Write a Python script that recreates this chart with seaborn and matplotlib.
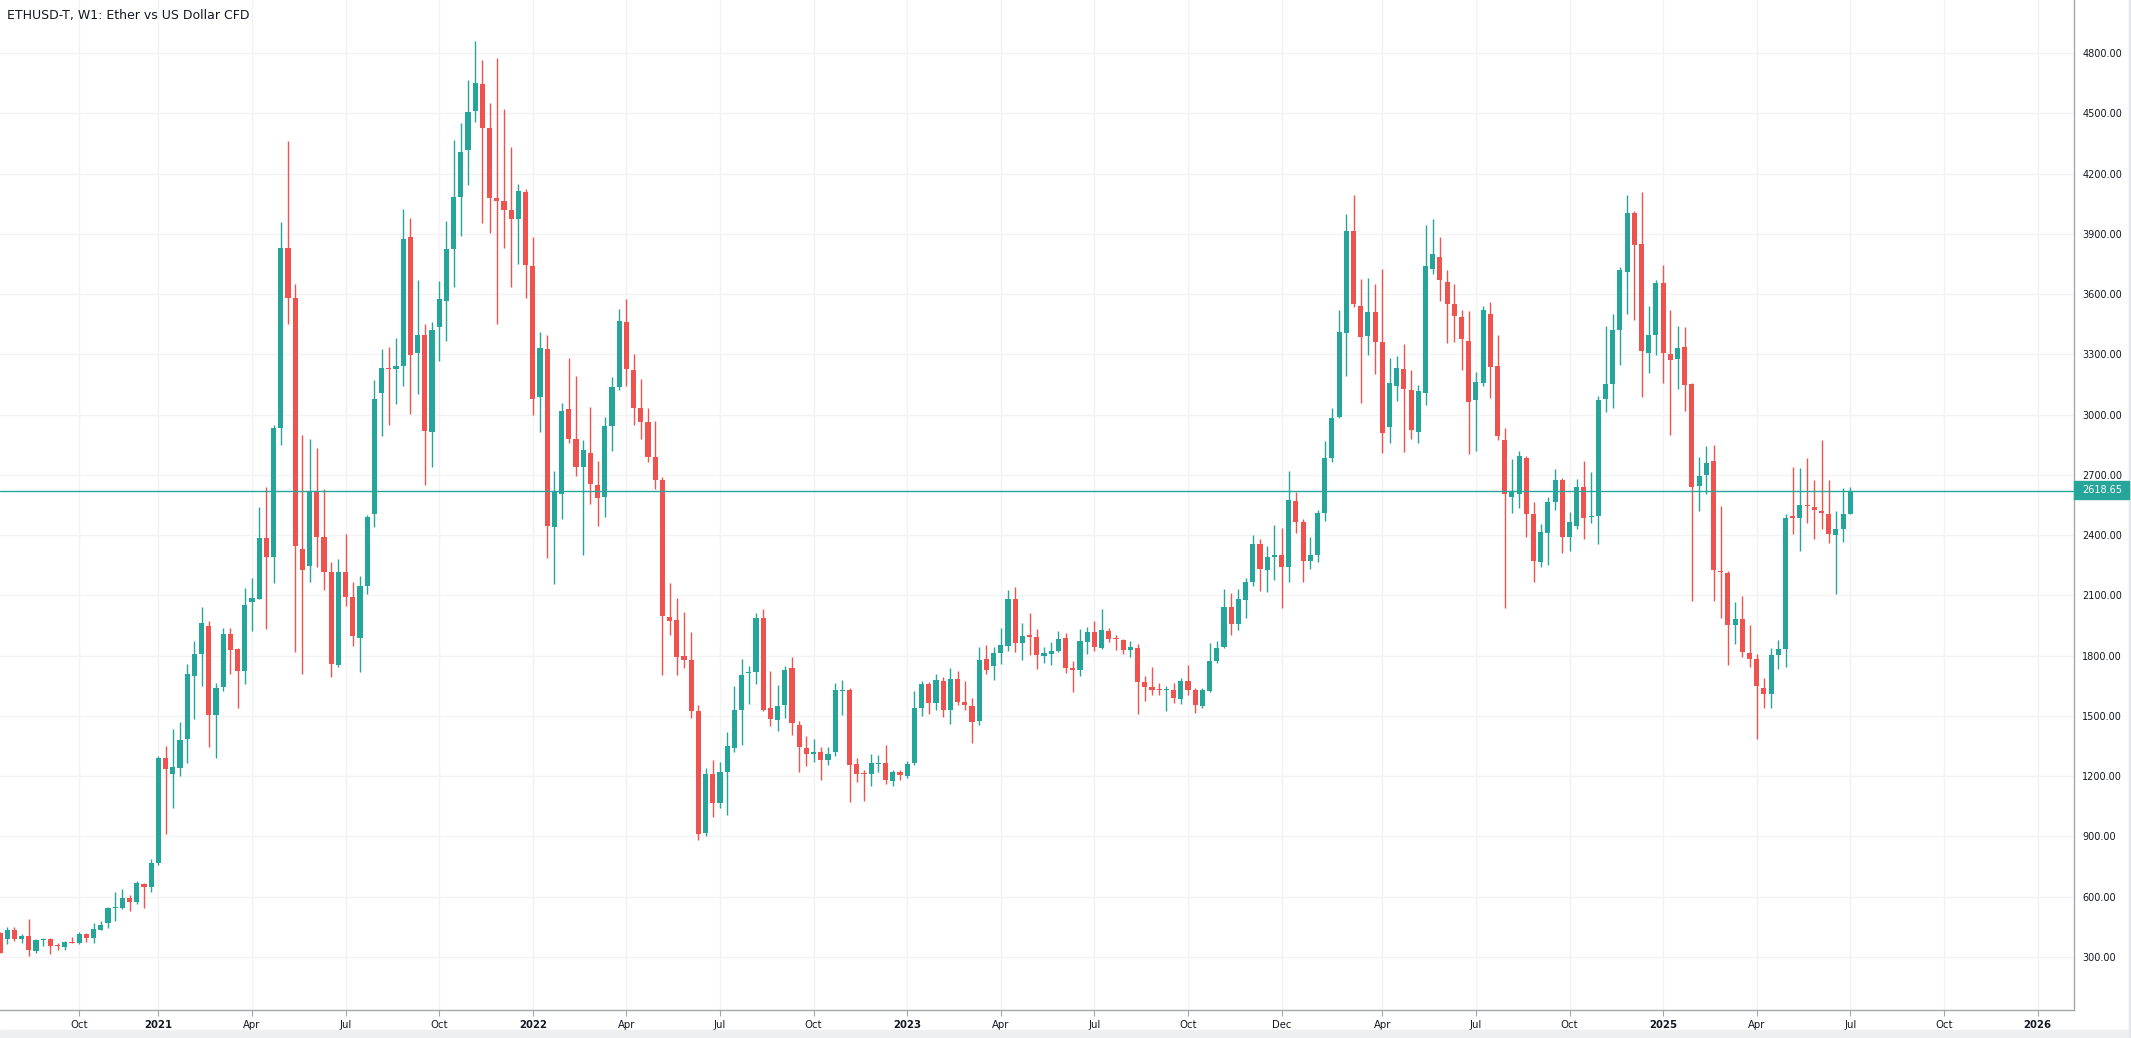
import numpy as np
import seaborn as sns
import matplotlib
matplotlib.use('Agg')
import matplotlib.pyplot as plt
from matplotlib.patches import Rectangle


# Weekly candles, ETHUSD-T ----------------------------------------------------
opens = [
    418, 391, 434, 391, 405, 332, 386, 390, 356, 352,
    373, 372, 415, 393, 435, 468, 544, 544, 594, 576,
    664, 650, 766, 1293, 1213, 1243, 1387, 1701, 1808, 1948,
    1506, 1646, 1908, 1833, 1726, 2069, 2084, 2386, 2293, 2933,
    3830, 3580, 2333, 2247, 2613, 2389, 2214, 1753, 2218, 2091,
    1888, 2145, 2505, 3109, 3234, 3226, 3241, 3886, 3305, 3394,
    2913, 3435, 3564, 3823, 4084, 4315, 4509, 4647, 4427, 4080,
    4065, 4019, 3972, 4110, 3739, 3088, 3327, 2441, 2605, 3027,
    2878, 2738, 2809, 2650, 2592, 2943, 3135, 3463, 3220, 3031,
    2962, 2787, 2673, 1991, 1976, 1798, 1778, 1522, 916, 1209,
    1067, 1222, 1340, 1531, 1713, 1720, 1989, 1540, 1480, 1553,
    1740, 1456, 1338, 1311, 1322, 1282, 1322, 1624, 1631, 1260,
    1215, 1211, 1262, 1267, 1178, 1220, 1200, 1265, 1540, 1661,
    1562, 1675, 1531, 1685, 1571, 1551, 1476, 1785, 1750, 1815,
    1850, 2084, 1865, 1905, 1895, 1800, 1810, 1825, 1890, 1740,
    1727, 1870, 1920, 1840, 1925, 1883, 1880, 1830, 1840, 1670,
    1645, 1629, 1628, 1630, 1586, 1675, 1630, 1551, 1626, 1775,
    1845, 2044, 1960, 2079, 2166, 2356, 2226, 2292, 2301, 2243,
    2569, 2465, 2273, 2301, 2511, 2783, 2988, 3405, 3913, 3540,
    3392, 3510, 3361, 2940, 3143, 3226, 3122, 2915, 3109, 3726,
    3784, 3659, 3550, 3485, 3366, 3074, 3158, 3500, 3241, 2873,
    2591, 2606, 2783, 2505, 2268, 2412, 2564, 2672, 2390, 2443,
    2641, 2488, 2494, 3077, 3154, 3422, 3708, 4002, 3847, 3306,
    3394, 3653, 3304, 3276, 3339, 3154, 2643, 2698, 2767, 2223,
    2212, 1951, 1983, 1814, 1781, 1640, 1610, 1804, 1831, 2494,
    2485, 2546, 2542, 2519, 2504, 2399, 2429, 2507,
]
highs = [
    425, 450, 450, 415, 489, 390, 395, 392, 370, 378,
    400, 425, 418, 468, 478, 549, 624, 639, 609, 679,
    670, 788, 1298, 1350, 1435, 1470, 1759, 1873, 2042, 1973,
    1664, 1938, 1938, 1838, 2137, 2187, 2542, 2640, 2950, 3960,
    4360, 3650, 2900, 2881, 2835, 2630, 2264, 2279, 2408, 2169,
    2199, 2501, 3170, 3329, 3338, 3379, 4024, 3980, 3672, 3452,
    3463, 3666, 3965, 4369, 4453, 4666, 4860, 4765, 4552, 4776,
    4522, 4334, 4149, 4125, 3886, 3409, 3394, 2717, 3060, 3280,
    3193, 2872, 3040, 2768, 2986, 3187, 3528, 3578, 3302, 3176,
    3031, 2967, 2690, 2160, 2085, 2016, 1916, 1553, 1242, 1280,
    1271, 1418, 1649, 1782, 1749, 2013, 2031, 1722, 1653, 1749,
    1791, 1473, 1398, 1387, 1347, 1345, 1664, 1678, 1638, 1291,
    1231, 1309, 1304, 1353, 1233, 1231, 1278, 1622, 1676, 1668,
    1710, 1695, 1740, 1725, 1675, 1587, 1845, 1855, 1845, 1940,
    2129, 2144, 1965, 2014, 1935, 1845, 1870, 1925, 1915, 1775,
    1935, 1945, 1975, 2030, 1940, 1905, 1885, 1875, 1860, 1700,
    1745, 1665, 1650, 1665, 1690, 1755, 1640, 1640, 1865, 1875,
    2134, 2114, 2134, 2189, 2403, 2381, 2346, 2450, 2435, 2719,
    2614, 2482, 2392, 2525, 2868, 3032, 3520, 3999, 4092, 3674,
    3679, 3649, 3724, 3281, 3291, 3351, 3221, 3147, 3943, 3973,
    3883, 3719, 3649, 3520, 3515, 3211, 3540, 3560, 3396, 2933,
    2778, 2819, 2795, 2564, 2455, 2589, 2729, 2684, 2517, 2681,
    2767, 2715, 3095, 3443, 3499, 3733, 4091, 4015, 4107, 3539,
    3668, 3743, 3523, 3443, 3434, 3159, 2791, 2845, 2851, 2547,
    2220, 2069, 2099, 1955, 1810, 1690, 1838, 1877, 2507, 2738,
    2732, 2786, 2675, 2875, 2675, 2519, 2633, 2641,
]
lows = [
    318, 366, 381, 372, 307, 322, 357, 317, 337, 337,
    368, 365, 376, 372, 433, 446, 481, 537, 531, 566,
    544, 625, 760, 911, 1040, 1203, 1268, 1485, 1651, 1347,
    1292, 1626, 1711, 1541, 1661, 1925, 2084, 1935, 2163, 2850,
    3450, 1820, 1709, 2165, 2242, 2128, 1694, 1742, 2048, 1850,
    1720, 2106, 2441, 2894, 2947, 3053, 3142, 3001, 3105, 2650,
    2738, 3267, 3364, 3633, 3888, 4142, 4455, 3952, 3903, 3450,
    3827, 3633, 3748, 3579, 2997, 2915, 2285, 2156, 2479, 2859,
    2695, 2300, 2555, 2445, 2492, 2818, 3124, 3141, 2949, 2878,
    2764, 2631, 1704, 1904, 1704, 1738, 1491, 882, 902, 998,
    1042, 1007, 1322, 1356, 1560, 1660, 1525, 1451, 1427, 1491,
    1407, 1222, 1253, 1271, 1182, 1256, 1302, 1504, 1073, 1171,
    1078, 1153, 1222, 1160, 1151, 1182, 1190, 1258, 1501, 1512,
    1531, 1493, 1461, 1556, 1531, 1366, 1456, 1710, 1680, 1760,
    1822, 1820, 1780, 1805, 1735, 1765, 1755, 1820, 1715, 1620,
    1697, 1810, 1825, 1835, 1870, 1830, 1810, 1795, 1511, 1576,
    1602, 1605, 1526, 1566, 1561, 1605, 1516, 1541, 1620, 1765,
    1840, 1905, 1930, 1985, 2149, 2123, 2118, 2176, 2039, 2166,
    2412, 2168, 2233, 2268, 2472, 2764, 2983, 3192, 3537, 3059,
    3298, 3203, 2808, 2860, 3069, 2815, 2880, 2860, 3049, 3701,
    3566, 3357, 3360, 3223, 2805, 2820, 3143, 3082, 2875, 2039,
    2511, 2536, 2392, 2168, 2243, 2253, 2523, 2309, 2323, 2433,
    2380, 2460, 2355, 3013, 3032, 3249, 3499, 3470, 3089, 3209,
    3297, 3156, 2896, 3127, 3016, 2071, 2519, 2603, 2071, 1989,
    1751, 1856, 1795, 1745, 1383, 1537, 1537, 1732, 1745, 2405,
    2319, 2462, 2382, 2433, 2363, 2109, 2366, 2504,
]
closes = [
    322, 434, 391, 406, 337, 385, 389, 357, 354, 375,
    371, 415, 393, 440, 460, 544, 546, 596, 576, 667,
    650, 766, 1293, 1234, 1248, 1380, 1709, 1808, 1963, 1506,
    1639, 1908, 1830, 1726, 2052, 2087, 2386, 2293, 2933, 3830,
    3580, 2348, 2227, 2620, 2393, 2216, 1759, 2218, 2093, 1899,
    2149, 2488, 3079, 3230, 3228, 3241, 3875, 3297, 3394, 2917,
    3422, 3577, 3825, 4084, 4308, 4507, 4651, 4429, 4077, 4062,
    4021, 3972, 4114, 3743, 3077, 3331, 2445, 2613, 3019, 2878,
    2738, 2824, 2654, 2585, 2943, 3135, 3467, 3227, 3033, 2964,
    2789, 2676, 1998, 1973, 1793, 1780, 1522, 911, 1209, 1067,
    1220, 1349, 1529, 1702, 1716, 1989, 1531, 1484, 1551, 1731,
    1464, 1347, 1311, 1322, 1282, 1311, 1627, 1631, 1256, 1211,
    1212, 1264, 1267, 1182, 1220, 1204, 1263, 1537, 1661, 1566,
    1680, 1531, 1685, 1571, 1556, 1471, 1780, 1730, 1815, 1855,
    2084, 1865, 1900, 1895, 1802, 1815, 1825, 1885, 1740, 1727,
    1875, 1920, 1845, 1930, 1885, 1881, 1830, 1845, 1670, 1645,
    1630, 1628, 1630, 1590, 1675, 1630, 1556, 1630, 1775, 1840,
    2044, 1960, 2084, 2169, 2356, 2231, 2291, 2300, 2243, 2574,
    2467, 2273, 2301, 2511, 2783, 2983, 3410, 3913, 3550, 3387,
    3510, 3361, 2910, 3157, 3231, 3128, 2924, 3117, 3739, 3799,
    3671, 3551, 3492, 3377, 3064, 3162, 3520, 3238, 2895, 2606,
    2616, 2794, 2506, 2273, 2415, 2564, 2672, 2390, 2467, 2641,
    2485, 2494, 3075, 3154, 3419, 3718, 4006, 3844, 3316, 3394,
    3653, 3306, 3270, 3333, 3146, 2639, 2696, 2761, 2225, 2214,
    1951, 1983, 1817, 1785, 1648, 1610, 1804, 1835, 2487, 2487,
    2551, 2544, 2523, 2510, 2405, 2429, 2504, 2618.65,
]
last_price = 2618.65

# Time axis labels (bar index where each label sits) ---------------------------
tick_bars = [11, 22, 35, 48, 61, 74, 87, 100, 113, 126, 139,
             152, 165, 178, 192, 205, 218, 231, 244, 257, 270, 283]
tick_labels = ['Oct', '2021', 'Apr', 'Jul', 'Oct', '2022', 'Apr', 'Jul',
               'Oct', '2023', 'Apr', 'Jul', 'Oct', 'Dec', 'Apr', 'Jul',
               'Oct', '2025', 'Apr', 'Jul', 'Oct', '2026']
price_ticks = list(range(300, 5100, 300))

# Style -----------------------------------------------------------------------
sns.set_style('white')
plt.rcParams['font.family'] = ['DejaVu Sans']
(UP, DOWN, TXT, AXC) = ('#26a69a', '#ef5350', '#131722', '#a3a6ad')
(W, H) = (2131, 1038)

o = np.array(opens, dtype=float)
c = np.array(closes, dtype=float)
x = np.arange(len(o))
colors = np.where(c >= o, UP, DOWN)
body_lo = np.minimum(o, c)
body_h = np.maximum(np.abs(c - o), 5)

# Plot ------------------------------------------------------------------------
fig = plt.figure(figsize=(W / 100, H / 100), dpi=100)
ax = fig.add_axes([0, 28 / H, 2074 / W, 1 - 28 / H])
ax.set_axisbelow(True)
ax.grid(True, color='#f2f3f5', linewidth=1.0)

ax.vlines(x, lows, highs, colors=colors, linewidth=1.0, zorder=2)
ax.bar(x, body_h, bottom=body_lo, width=0.7, color=colors,
       linewidth=0, zorder=3)
ax.axhline(last_price, color=UP, linewidth=1.0, zorder=4)

# Axes ------------------------------------------------------------------------
ax.set_xlim(0, 288.06)
ax.set_ylim(36, 5064)
ax.yaxis.tick_right()
ax.set_yticks(price_ticks)
ax.set_yticklabels(['%.2f' % p for p in price_ticks])
ax.set_xticks(tick_bars)
ax.set_xticklabels(tick_labels)
for lab in ax.get_xticklabels():
    if lab.get_text().isdigit():
        lab.set_fontweight('bold')
ax.tick_params(axis='y', which='both', right=True, left=False, length=4,
               width=0.8, color=AXC, labelsize=7, labelcolor=TXT, pad=2)
ax.tick_params(axis='x', which='both', bottom=True, length=4, width=0.8,
               color=AXC, labelsize=7.3, labelcolor=TXT, pad=3)
sns.despine(ax=ax, left=True, top=True, right=False, bottom=False)
for side in ('right', 'bottom'):
    ax.spines[side].set_color(AXC)
    ax.spines[side].set_linewidth(1.0)

# Last price label ------------------------------------------------------------
fig.patches.append(Rectangle((2074 / W, 1 - 499 / H), 55 / W, 18 / H,
                             transform=fig.transFigure, color=UP, zorder=5))
fig.text(2102 / W, 1 - 490 / H, '%.2f' % last_price, color='white',
         fontsize=7, ha='center', va='center', zorder=6)

# Frame strips and title ------------------------------------------------------
fig.patches.append(Rectangle((0, 0), 1, 8 / H, transform=fig.transFigure,
                             color='#eeeff1', zorder=0))
fig.patches.append(Rectangle((1 - 2 / W, 0), 2 / W, 1,
                             transform=fig.transFigure, color='#e4e5e8',
                             zorder=0))
fig.text(7 / W, 1 - 16 / H, 'ETHUSD-T, W1: Ether vs US Dollar CFD',
         fontsize=9, color=TXT, ha='left', va='center')

fig.savefig('out.png', dpi=100)
